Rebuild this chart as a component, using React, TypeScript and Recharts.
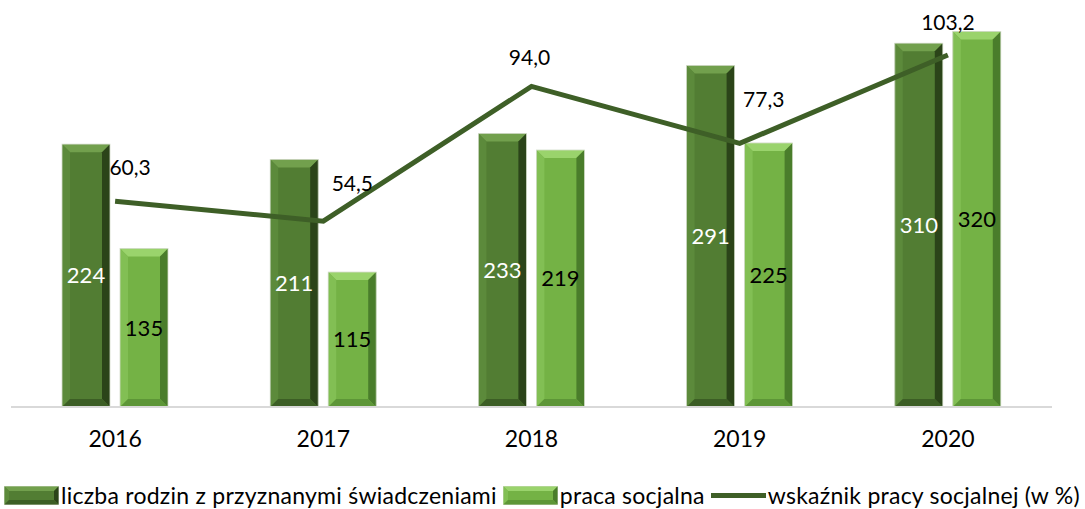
import React from 'react';
import {
  ComposedChart, Bar, Line, XAxis, YAxis, LabelList, Legend,
} from 'recharts';

const years = ['2016', '2017', '2018', '2019', '2020'];
const rodziny = [224, 211, 233, 291, 310];
const praca = [135, 115, 219, 225, 320];
const wskaznik = [60.3, 54.5, 94.0, 77.3, 103.2];

const SERIES_NAMES = {
  rodziny: 'liczba rodzin z przyznanymi świadczeniami',
  praca: 'praca socjalna',
  wskaznik: 'wskaźnik pracy socjalnej (w %)',
};

const data = years.map((year, i) => ({
  year,
  rodziny: rodziny[i],
  praca: praca[i],
  wskaznik: wskaznik[i],
}));

// label nudges for the line values (dx, dy from the point)
const LINE_LABEL_OFFSETS = [
  [15, -35], [29, -39], [-2, -30], [24, -45], [0, -34],
];

const FONT = 'Lato, "Open Sans", sans-serif';
const LINE_COLOR = '#3e5f27';

const DARK = { face: '#527d33', top: '#72a04d', left: '#5c8a3b', right: '#2b4419', bottom: '#3c5e25' };
const LIGHT = { face: '#74b245', top: '#9ad36c', left: '#82bf54', right: '#4a7d2b', bottom: '#5d9637' };

type Palette = typeof DARK;

function bevelPolys(x: number, y: number, w: number, h: number, b: number, c: Palette) {
  const bb = Math.min(b, w / 2, h / 2);
  const p = (pts: number[][]) => pts.map((q) => q.join(',')).join(' ');
  return (
    <g>
      <rect x={x} y={y} width={w} height={h} fill={c.face} />
      <polygon points={p([[x, y], [x + w, y], [x + w - bb, y + bb], [x + bb, y + bb]])} fill={c.top} />
      <polygon points={p([[x, y], [x + bb, y + bb], [x + bb, y + h - bb], [x, y + h]])} fill={c.left} />
      <polygon points={p([[x + w, y], [x + w, y + h], [x + w - bb, y + h - bb], [x + w - bb, y + bb]])} fill={c.right} />
      <polygon points={p([[x, y + h], [x + bb, y + h - bb], [x + w - bb, y + h - bb], [x + w, y + h]])} fill={c.bottom} />
      <rect x={x} y={y} width={w} height={h} fill="none" stroke="#d4dccb" strokeWidth={0.8} />
    </g>
  );
}

const bevelShape = (c: Palette) => (props: any) => {
  const { x, y, width, height } = props;
  if (!height || height <= 0) return <g />;
  return bevelPolys(x, y, width, height, 8, c);
};

function LineLabel(props: any) {
  const { x, y, value, index } = props;
  const [dx, dy] = LINE_LABEL_OFFSETS[index] || [0, -30];
  return (
    <text x={x + dx} y={y + dy} textAnchor="middle" dominantBaseline="central"
      fontSize={21} fontFamily={FONT} fill="#000">
      {Number(value).toFixed(1).replace('.', ',')}
    </text>
  );
}

function LegendContent() {
  const item = (icon: React.ReactNode, label: string, gap: number) => (
    <div style={{ display: 'flex', alignItems: 'center', marginRight: gap }}>
      {icon}
      <span style={{ marginLeft: 2, fontSize: 23, letterSpacing: 0.25, color: '#000', whiteSpace: 'nowrap' }}>{label}</span>
    </div>
  );
  const barIcon = (c: Palette) => (
    <svg width={55} height={19}>{bevelPolys(0, 0, 55, 19, 5, c)}</svg>
  );
  return (
    <div style={{ display: 'flex', alignItems: 'center', justifyContent: 'flex-start', paddingLeft: 4, fontFamily: FONT, height: 28 }}>
      {item(barIcon(DARK), SERIES_NAMES.rodziny, 6)}
      {item(barIcon(LIGHT), SERIES_NAMES.praca, 6)}
      {item(
        <svg width={55} height={19}>
          <line x1={0} y1={9.5} x2={55} y2={9.5} stroke={LINE_COLOR} strokeWidth={5} strokeLinecap="round" />
        </svg>,
        SERIES_NAMES.wskaznik, 0,
      )}
    </div>
  );
}

export default function App() {
  return (
    <div style={{ position: 'absolute', left: 0, top: 0, background: '#fff', fontFamily: FONT }}>
      <ComposedChart width={1085} height={509} data={data}
        margin={{ top: 8, right: 33, left: 11, bottom: 0 }} barGap={10} barSize={48}>
        <XAxis dataKey="year" xAxisId={0} axisLine={{ stroke: '#d9d9d9', strokeWidth: 2 }}
          tickLine={false} tickSize={0} tickMargin={24} height={74}
          tick={{ fontSize: 23, fill: '#000', fontFamily: FONT }} />
        <YAxis yAxisId="left" domain={[0, 340]} hide />
        <YAxis yAxisId="right" orientation="right" domain={[0, 117]} hide />
        <Legend verticalAlign="bottom" content={<LegendContent />}
          wrapperStyle={{ left: 0, width: 1085, bottom: 0 }} />
        <Bar yAxisId="left" dataKey="rodziny" name={SERIES_NAMES.rodziny} fill={DARK.face}
          shape={bevelShape(DARK)} isAnimationActive={false}>
          <LabelList dataKey="rodziny" position="center" fill="#fff" fontSize={22} fontFamily={FONT} />
        </Bar>
        <Bar yAxisId="left" dataKey="praca" name={SERIES_NAMES.praca} fill={LIGHT.face}
          shape={bevelShape(LIGHT)} isAnimationActive={false}>
          <LabelList dataKey="praca" position="center" fill="#000" fontSize={22} fontFamily={FONT} />
        </Bar>
        <Line yAxisId="right" dataKey="wskaznik" name={SERIES_NAMES.wskaznik} type="linear"
          stroke={LINE_COLOR} strokeWidth={5} dot={false} activeDot={false} isAnimationActive={false}>
          <LabelList dataKey="wskaznik" content={<LineLabel />} />
        </Line>
      </ComposedChart>
    </div>
  );
}
